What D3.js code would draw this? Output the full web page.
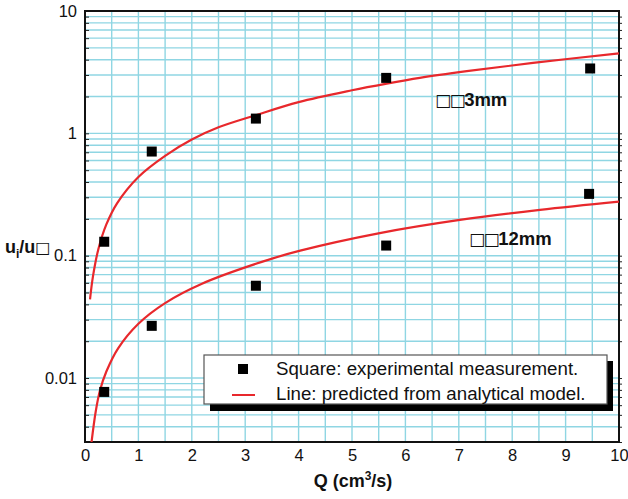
<!DOCTYPE html>
<html><head><meta charset="utf-8">
<script src="https://cdn.jsdelivr.net/npm/d3@7/dist/d3.min.js"></script>
<style>body{margin:0;background:#fff}svg{display:block}text{font-family:"Liberation Sans",Arial,sans-serif}.bx{font-family:"DejaVu Sans",sans-serif;font-weight:normal}</style>
</head><body><svg id="c" width="628" height="499"></svg>
<script>
// Measured squares
const exp3Q = [0.36, 1.25, 3.2, 5.64, 9.46];
const exp3V = [0.13, 0.71, 1.32, 2.84, 3.39];
const exp12Q = [0.36, 1.25, 3.2, 5.64, 9.44];
const exp12V = [0.0077, 0.0267, 0.0568, 0.121, 0.32];
// Model curves
const model3Q = [0.094, 0.15, 0.25, 0.4, 0.6, 1.0, 1.5, 2.0, 2.5, 3.18, 4.0, 5.0, 5.65, 6.27, 7.15, 8.39, 10.0];
const model3V = [0.044, 0.068, 0.113, 0.18, 0.268, 0.44, 0.655, 0.89, 1.12, 1.40, 1.80, 2.25, 2.55, 2.84, 3.22, 3.77, 4.5];
const model12Q = [0.11, 0.2, 0.28, 0.4, 0.62, 1.0, 1.5, 2.19, 3.31, 4.03, 5.52, 7.02, 8.52, 10.0];
const model12V = [0.0027, 0.0053, 0.0079, 0.0113, 0.0175, 0.0278, 0.041, 0.059, 0.089, 0.110, 0.153, 0.196, 0.237, 0.277];
const xTicks = [0,1,2,3,4,5,6,7,8,9,10];
const yTicks = [0.01, 0.1, 1, 10];
const yTickLabels = ["0.01", "0.1", "1", "10"];
const legendItems = ["Square: experimental measurement.", "Line: predicted from analytical model."];

const svg = d3.select("#c");
const L = 85, R = 619, T = 11, B = 442;
const x = d3.scaleLinear().domain([0, 10]).range([L, R]);
const y = d3.scaleLog().domain([0.003, 10]).range([B, T]);

// grid
const minorY = [];
[0.001, 0.01, 0.1, 1].forEach(d => { for (let k = 1; k <= 9; k++) { const v = d * k; if (v >= 0.003 && v <= 10) minorY.push(v); } });
const grid = svg.append("g");
grid.selectAll("line.h").data(minorY).join("line")
  .attr("x1", L).attr("x2", R).attr("y1", d => y(d)).attr("y2", d => y(d))
  .attr("stroke", "#8fd6e3").attr("stroke-width", 1.4);
const vx = d3.range(1, 20).map(i => i * 0.5);
grid.selectAll("line.v").data(vx).join("line")
  .attr("y1", T).attr("y2", B).attr("x1", d => x(d)).attr("x2", d => x(d))
  .attr("stroke", "#8fd6e3").attr("stroke-width", 1.4);

// axes (ticks)
const axL = svg.append("g").attr("transform", `translate(${L},0)`)
  .call(d3.axisLeft(y).tickValues(yTicks).tickFormat((d, i) => yTickLabels[i]).tickSize(0).tickPadding(8));
axL.select(".domain").remove();
axL.selectAll("text").attr("font-size", 16.5).attr("fill", "#111");
const axLm = svg.append("g").attr("transform", `translate(${L},0)`)
  .call(d3.axisRight(y).tickValues(minorY).tickFormat("").tickSize(4));
axLm.select(".domain").remove();
axLm.selectAll("line").attr("stroke", "#222");
const axRm = svg.append("g").attr("transform", `translate(${R},0)`)
  .call(d3.axisRight(y).tickValues(minorY).tickFormat("").tickSize(3));
axRm.select(".domain").remove();
axRm.selectAll("line").attr("stroke", "#222");

const axB = svg.append("g").attr("transform", `translate(0,${B})`)
  .call(d3.axisBottom(x).tickValues(xTicks).tickFormat(d3.format("d")).tickSize(0).tickPadding(7));
axB.select(".domain").remove();
axB.selectAll("text").attr("font-size", 16.5).attr("fill", "#111");

// frame
svg.append("rect").attr("x", L).attr("y", T).attr("width", R - L).attr("height", B - T)
  .attr("fill", "none").attr("stroke", "#111").attr("stroke-width", 2);

// clip
svg.append("clipPath").attr("id", "clip").append("rect").attr("x", L).attr("y", T).attr("width", R - L).attr("height", B - T);

const line = d3.line().x(d => x(d[0])).y(d => y(d[1])).curve(d3.curveCatmullRom.alpha(0.5));
const curves = svg.append("g").attr("clip-path", "url(#clip)");
[[model3Q, model3V], [model12Q, model12V]].forEach(([q, v]) => {
  curves.append("path").datum(q.map((d, i) => [d, v[i]])).attr("d", line)
    .attr("fill", "none").attr("stroke", "#e8282c").attr("stroke-width", 2.2);
});

const sq = 10;
[[exp3Q, exp3V], [exp12Q, exp12V]].forEach(([q, v]) => {
  svg.append("g").selectAll("rect").data(q.map((d, i) => [d, v[i]])).join("rect")
    .attr("x", d => x(d[0]) - sq / 2).attr("y", d => y(d[1]) - sq / 2)
    .attr("width", sq).attr("height", sq).attr("fill", "#000");
});

// labels
function boxLabel(px, py, rest) {
  const t = svg.append("text").attr("x", px).attr("y", py).attr("font-size", 18.5).attr("font-weight", "bold").attr("fill", "#111");
  t.append("tspan").attr("class", "bx").attr("font-size", 17).attr("letter-spacing", -1.5).text("□□");
  t.append("tspan").text(rest);
}
boxLabel(435, 106, "3mm");
boxLabel(469, 245, "12mm");

// legend
const lg = svg.append("g");
lg.append("rect").attr("x", 210).attr("y", 361).attr("width", 403).attr("height", 50).attr("fill", "#000");
lg.append("rect").attr("x", 204).attr("y", 355).attr("width", 403).attr("height", 49).attr("fill", "#fff").attr("stroke", "#555").attr("stroke-width", 1.2);
lg.append("rect").attr("x", 238).attr("y", 364).attr("width", 10).attr("height", 10).attr("fill", "#000");
lg.append("line").attr("x1", 232).attr("x2", 255).attr("y1", 395).attr("y2", 395).attr("stroke", "#e8282c").attr("stroke-width", 2);
lg.selectAll("text.lt").data(legendItems).join("text").attr("class", "lt")
  .attr("x", 276).attr("y", (d, i) => 375 + i * 25).attr("font-size", 18.7).attr("fill", "#111").text(d => d);

// axis titles
const xt = svg.append("text").attr("x", 353).attr("y", 487).attr("text-anchor", "middle")
  .attr("font-size", 18).attr("font-weight", "bold").attr("fill", "#111");
xt.append("tspan").text("Q (cm");
xt.append("tspan").attr("font-size", 12).attr("dy", -7).text("3");
xt.append("tspan").attr("dy", 7).text("/s)");

const yt = svg.append("text").attr("x", 5).attr("y", 253)
  .attr("font-size", 18).attr("font-weight", "bold").attr("fill", "#111");
yt.append("tspan").text("u");
yt.append("tspan").attr("font-size", 12).attr("dy", 5).text("i");
yt.append("tspan").attr("dy", -5).text("/u");
yt.append("tspan").attr("class", "bx").attr("font-size", 16).text("□");
</script></body></html>
